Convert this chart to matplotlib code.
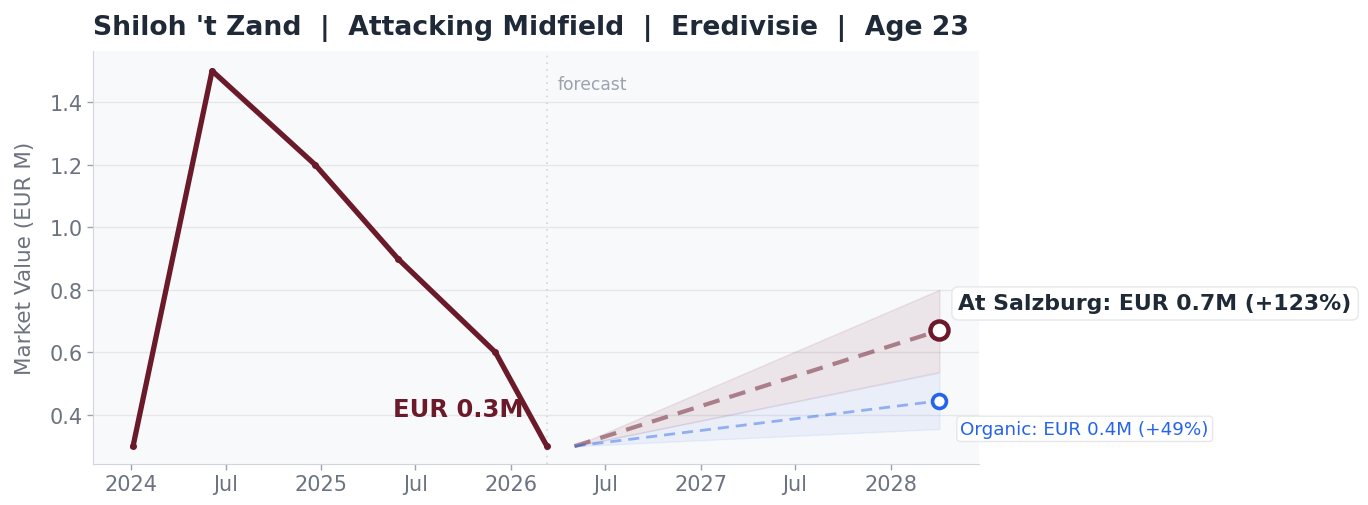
import datetime as dt
import matplotlib
matplotlib.use("Agg")
import matplotlib.pyplot as plt
import matplotlib.dates as mdates
from matplotlib.ticker import FuncFormatter

# history
hist_dates = ["2024-01-05", "2024-06-05", "2024-12-20", "2025-05-28", "2025-12-02", "2026-03-11"]
hist_values = [0.30, 1.50, 1.20, 0.90, 0.60, 0.30]

# forecast
fc_dates = ["2026-05-03", "2028-04-04"]
salzburg_values = [0.30, 0.67]
salzburg_low = [0.30, 0.537]
salzburg_high = [0.30, 0.80]
organic_values = [0.30, 0.445]
organic_low = [0.30, 0.355]
organic_high = [0.30, 0.535]

title = "Shiloh 't Zand  |  Attacking Midfield  |  Eredivisie  |  Age 23"
salzburg_label = "At Salzburg: EUR 0.7M (+123%)"
organic_label = "Organic: EUR 0.4M (+49%)"
current_label = "EUR 0.3M"

MAROON = "#6b1a2a"
BLUE = "#2563eb"
GREY = "#6b7280"
DARK = "#1f2937"

to_d = lambda s: dt.datetime.strptime(s, "%Y-%m-%d")
hx = [to_d(s) for s in hist_dates]
fx = [to_d(s) for s in fc_dates]

fig = plt.figure(figsize=(13.68, 5.06), dpi=100)
ax = fig.add_axes([0.068, 0.081, 0.648, 0.816])
ax.set_facecolor("#f8f9fb")

ax.grid(True, axis="y", color="#e5e7eb", linewidth=1)
ax.set_axisbelow(True)

ax.fill_between(fx, salzburg_low, salzburg_high, color=MAROON, alpha=0.09,
                edgecolor=MAROON, linewidth=1)
ax.fill_between(fx, organic_low, organic_high, color=BLUE, alpha=0.07,
                edgecolor=BLUE, linewidth=1)

ax.plot(hx, hist_values, color=MAROON, linewidth=3.8, marker="o", markersize=4,
        solid_joinstyle="round", zorder=4)

ax.plot(fx, salzburg_values, color=MAROON, alpha=0.5, linewidth=3, dashes=(4, 2.5), zorder=3)
ax.plot(fx, organic_values, color=BLUE, alpha=0.45, linewidth=2, dashes=(4, 2.5), zorder=3)
ax.plot(fx[-1], salzburg_values[-1], "o", markersize=13, markerfacecolor="white",
        markeredgecolor=MAROON, markeredgewidth=3.2, zorder=5)
ax.plot(fx[-1], organic_values[-1], "o", markersize=10, markerfacecolor="white",
        markeredgecolor=BLUE, markeredgewidth=2.6, zorder=5)

ax.axvline(hx[-1], color="#d1d5db", linestyle=(0, (1, 3)), linewidth=1.2, zorder=1)
ax.annotate("forecast", xy=(hx[-1], 1.563), xytext=(11, -24), textcoords="offset pixels",
            ha="left", va="top", fontsize=12.3, color="#9ca3af")

ax.annotate(current_label, xy=(hx[-1], hist_values[-1]), xytext=(-23, 37),
            textcoords="offset pixels", ha="right", va="center", fontsize=17.5,
            fontweight="bold", color=MAROON)

ax.annotate(salzburg_label, xy=(fx[-1], salzburg_values[-1]), xytext=(19, 27),
            textcoords="offset pixels", ha="left", va="center", fontsize=15.8,
            fontweight="bold", color=DARK, annotation_clip=False,
            bbox=dict(boxstyle="round,pad=0.3", facecolor="white", edgecolor="#e5e7eb"))
ax.annotate(organic_label, xy=(fx[-1], organic_values[-1]), xytext=(21, -28),
            textcoords="offset pixels", ha="left", va="center", fontsize=13.2,
            color=BLUE, annotation_clip=False,
            bbox=dict(boxstyle="round,pad=0.2", facecolor="white", edgecolor="#e5e7eb"))

ax.set_xlim(to_d("2023-10-20"), to_d("2028-06-20"))
ax.set_ylim(0.243, 1.563)
ax.set_yticks([0.4, 0.6, 0.8, 1.0, 1.2, 1.4])

ax.xaxis.set_major_locator(mdates.MonthLocator(bymonth=[1, 7]))
ax.xaxis.set_major_formatter(FuncFormatter(
    lambda v, p: mdates.num2date(v).strftime("%Y") if mdates.num2date(v).month == 1 else "Jul"))

ax.set_ylabel("Market Value (EUR M)", fontsize=15.5, color=GREY, labelpad=10)
ax.tick_params(axis="both", labelsize=15, colors=GREY, length=4, width=1)
ax.tick_params(axis="both", color="#9ca3af")
for s in ["top", "right"]:
    ax.spines[s].set_visible(False)
for s in ["left", "bottom"]:
    ax.spines[s].set_color("#d1d5db")

ax.set_title(title, loc="left", fontsize=19.2, fontweight="bold", color=DARK, pad=12)

fig.savefig("out.png", dpi=100)
